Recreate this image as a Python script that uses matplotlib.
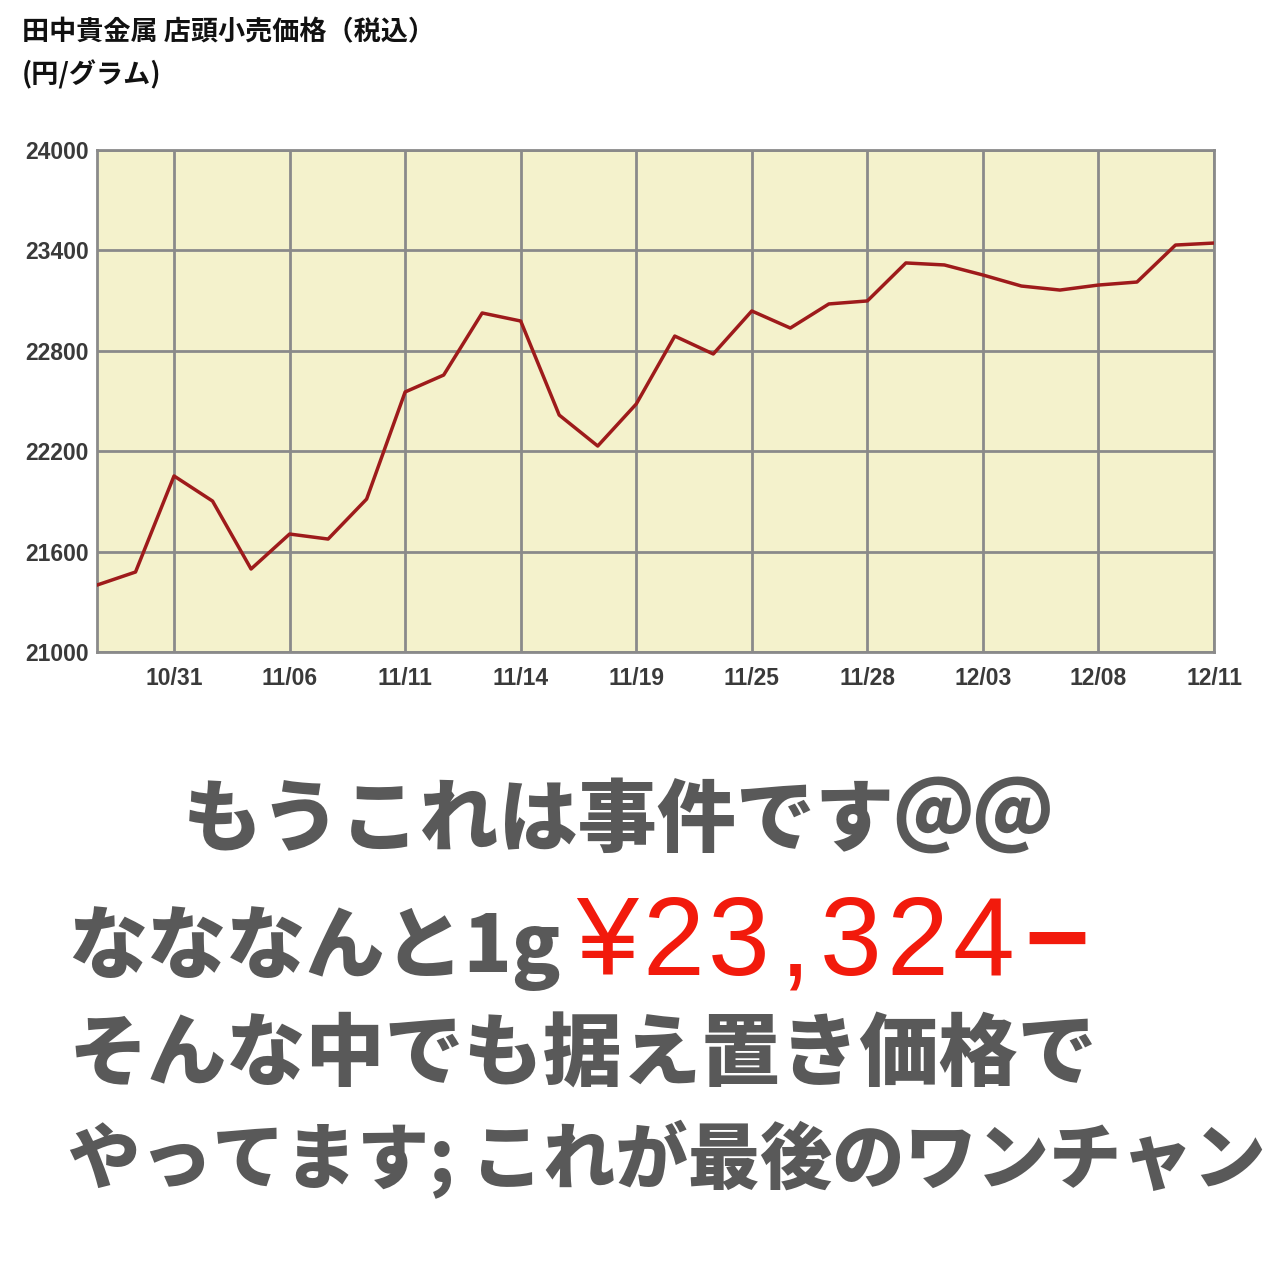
import matplotlib
matplotlib.use("Agg")
import matplotlib.pyplot as plt

# gold price, yen per gram
prices = [21400, 21478, 22052, 21902, 21496, 21705, 21675, 21914, 22554, 22655,
          23026, 22978, 22416, 22231, 22482, 22888, 22781, 23038, 22936, 23080,
          23098, 23325, 23313, 23253, 23187, 23163, 23193, 23211, 23432, 23444]
date_pos = [2, 5, 8, 11, 14, 17, 20, 23, 26, 29]
date_labels = ["10/31", "11/06", "11/11", "11/14", "11/19", "11/25", "11/28", "12/03", "12/08", "12/11"]
y_ticks = [21000, 21600, 22200, 22800, 23400, 24000]

title1 = "田中貴金属 店頭小売価格（税込）"
title2 = "(円/グラム)"
line1 = "もうこれは事件です＠＠"
line2 = "なななんと1g"
price_chars = ["¥", "2", "3", ",", "3", "2", "4", "−"]
line3 = "そんな中でも据え置き価格で"
line4 = "やってます; これが最後のワンチャン"

jp = ["Noto Sans CJK JP", "DejaVu Sans"]
W = 1280

fig = plt.figure(figsize=(12.8, 12.8), dpi=100)
fig.patch.set_facecolor("white")
ax = fig.add_axes([97 / W, 1 - 652 / W, (1214 - 97) / W, (652 - 150) / W])
ax.set_facecolor("#f4f2cc")

ax.plot(range(len(prices)), prices, color="#9e1b1b", lw=2.5, zorder=3)
ax.set_xlim(0, len(prices) - 1)
ax.set_ylim(21000, 24000)
ax.set_xticks(date_pos)
ax.set_xticklabels(date_labels)
ax.set_yticks(y_ticks)
ax.grid(True, color="#8a8a8a", lw=2.0)
ax.set_axisbelow(True)
for s in ax.spines.values():
    s.set_color("#8a8a8a")
    s.set_linewidth(2.0)
ax.tick_params(axis="both", length=0, labelsize=16.5, labelcolor="#3a3a3a",
               labelfontfamily="Liberation Sans")
for lbl in ax.get_xticklabels() + ax.get_yticklabels():
    lbl.set_fontweight("bold")
ax.tick_params(axis="x", pad=11)
ax.tick_params(axis="y", pad=6)

# header
fig.text(22 / W, 1 - 40 / W, title1, family=jp, fontsize=19.5, weight="bold", color="#111111", va="baseline")
fig.text(22 / W, 1 - 83 / W, title2, family=jp, fontsize=19.5, weight="bold", color="#111111", va="baseline")

# big message
gray = "#595959"
fig.text(183 / W, 1 - 845 / W, line1, family=jp, fontsize=57, weight="black", color=gray, va="baseline")
fig.text(68 / W, 1 - 972 / W, line2, family=jp, fontsize=57, weight="black", color=gray, va="baseline")

# red price, fixed-pitch like the original
x = 607
for ch in price_chars:
    if ch == ",":
        x -= 10
    fig.text(x / W, 1 - 975 / W, ch, family="Liberation Sans", fontsize=80, color="#f21a0c",
             weight="bold" if ch == "−" else "normal", va="baseline", ha="center")
    if ch == ",":
        x -= 10
    if ch == "4":
        x += 8
    x += 66

fig.text(68 / W, 1 - 1080 / W, line3, family=jp, fontsize=57, weight="black", color=gray, va="baseline")
fig.text(68 / W, 1 - 1183 / W, line4, family=jp, fontsize=52, weight="black", color=gray, va="baseline")

fig.savefig("out.png", dpi=100)
